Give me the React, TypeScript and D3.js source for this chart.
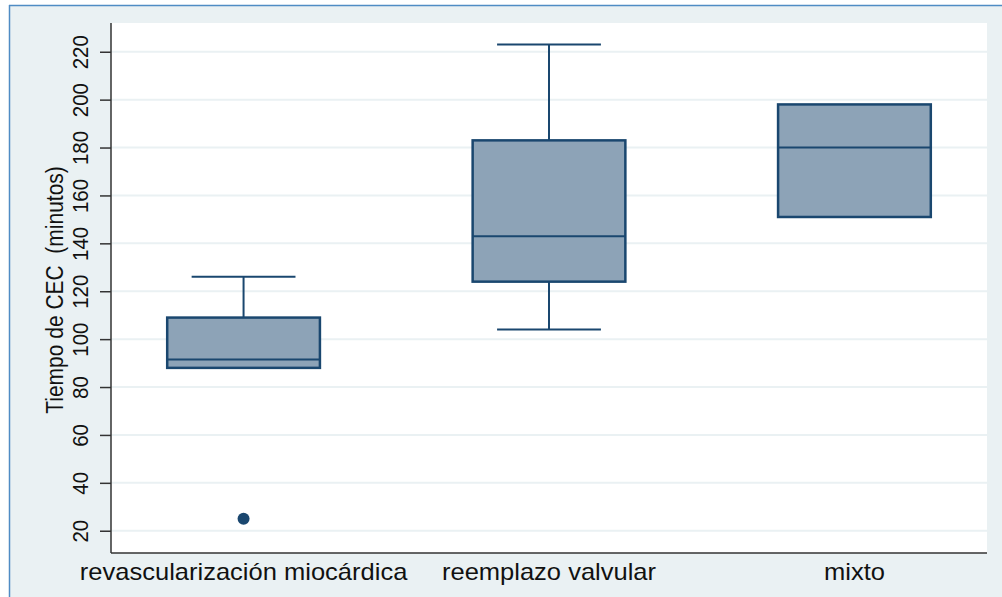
import React, { useEffect, useRef } from 'react'
import * as d3 from 'd3'

// Box plot summary
const categories = ['revascularización miocárdica', 'reemplazo valvular', 'mixto']
const lowerWhisker = [88, 104, 151]
const q1 = [88, 124, 151]
const median = [91.5, 143, 180]
const q3 = [109, 183, 198]
const upperWhisker = [126, 223, 198]
const outliers: { cat: string; value: number }[] = [{ cat: 'revascularización miocárdica', value: 25 }]
const yTicks = [20, 40, 60, 80, 100, 120, 140, 160, 180, 200, 220]

const W = 1002
const H = 597

const App: React.FC = () => {
  const svgRef = useRef<SVGSVGElement>(null)

  useEffect(() => {
    if (!svgRef.current) return
    const svg = d3.select(svgRef.current)
    svg.selectAll('*').remove()

    const left = 111
    const right = 987
    const top = 23
    const bottom = 553
    const navy = '#1a476f'
    const font = '"Liberation Sans", Arial, sans-serif'
    const stretch = 1.11 // the source image is a bit wider than tall

    // background + frame
    svg.append('rect').attr('width', W).attr('height', H).attr('fill', '#fff')
    svg.append('rect')
      .attr('x', 9).attr('y', 5).attr('width', W - 9).attr('height', H - 5)
      .attr('fill', '#eaf1f3')
    svg.append('line').attr('x1', 9).attr('x2', W).attr('y1', 5.5).attr('y2', 5.5)
      .attr('stroke', '#4f8cc4').attr('stroke-width', 1.5)
    svg.append('line').attr('x1', 9.5).attr('x2', 9.5).attr('y1', 5).attr('y2', H)
      .attr('stroke', '#4f8cc4').attr('stroke-width', 1.5)

    svg.append('rect')
      .attr('x', left).attr('y', top).attr('width', right - left).attr('height', bottom - top)
      .attr('fill', '#fff')

    const x = d3.scalePoint<string>().domain(categories).range([left, right]).padding(0.434)
    const y = d3.scaleLinear().domain([10.7, 232]).range([bottom, top])
    const boxW = x.step() * 0.5
    const capW = boxW * 0.68

    // gridlines
    svg.append('g').selectAll('line').data(yTicks).enter().append('line')
      .attr('x1', left).attr('x2', right)
      .attr('y1', d => y(d)).attr('y2', d => y(d))
      .attr('stroke', '#eaf1f3').attr('stroke-width', 2)

    const g = svg.append('g')
    categories.forEach((c, i) => {
      const cx = x(c) ?? 0
      // whiskers
      if (upperWhisker[i] > q3[i]) {
        g.append('line').attr('x1', cx).attr('x2', cx).attr('y1', y(upperWhisker[i])).attr('y2', y(q3[i]))
          .attr('stroke', navy).attr('stroke-width', 2)
        g.append('line').attr('x1', cx - capW / 2).attr('x2', cx + capW / 2)
          .attr('y1', y(upperWhisker[i])).attr('y2', y(upperWhisker[i]))
          .attr('stroke', navy).attr('stroke-width', 2)
      }
      if (lowerWhisker[i] < q1[i]) {
        g.append('line').attr('x1', cx).attr('x2', cx).attr('y1', y(lowerWhisker[i])).attr('y2', y(q1[i]))
          .attr('stroke', navy).attr('stroke-width', 2)
        g.append('line').attr('x1', cx - capW / 2).attr('x2', cx + capW / 2)
          .attr('y1', y(lowerWhisker[i])).attr('y2', y(lowerWhisker[i]))
          .attr('stroke', navy).attr('stroke-width', 2)
      }
      // box
      g.append('rect')
        .attr('x', cx - boxW / 2).attr('width', boxW)
        .attr('y', y(q3[i])).attr('height', y(q1[i]) - y(q3[i]))
        .attr('fill', '#8da3b7').attr('stroke', navy).attr('stroke-width', 2.5)
      g.append('line').attr('x1', cx - boxW / 2).attr('x2', cx + boxW / 2)
        .attr('y1', y(median[i])).attr('y2', y(median[i]))
        .attr('stroke', navy).attr('stroke-width', 2)
    })

    g.selectAll('circle.out').data(outliers).enter().append('circle')
      .attr('class', 'out')
      .attr('cx', d => x(d.cat) ?? 0).attr('cy', d => y(d.value)).attr('r', 6)
      .attr('fill', navy)

    // y axis
    const yAxis = svg.append('g').attr('transform', `translate(${left},0)`)
      .call(d3.axisLeft(y).tickValues(yTicks).tickSize(11).tickFormat(d => `${d}`))
    yAxis.select('.domain').attr('d', `M0,${top}V${bottom}`).attr('stroke', '#333').attr('stroke-width', 1.5)
    yAxis.selectAll('.tick line').attr('stroke', '#333').attr('stroke-width', 1.5)
    yAxis.selectAll('.tick text')
      .attr('x', null).attr('dy', null)
      .attr('transform', `translate(-31,0) scale(${stretch},1) rotate(-90)`)
      .attr('text-anchor', 'middle')
      .attr('dominant-baseline', 'central')
      .style('font-family', font).style('font-size', '20.5px').style('fill', '#111')

    // x axis line + category labels
    svg.append('line').attr('x1', left).attr('x2', right).attr('y1', bottom).attr('y2', bottom)
      .attr('stroke', '#333').attr('stroke-width', 1.5)
    svg.append('g').selectAll('text').data(categories).enter().append('text')
      .attr('transform', d => `translate(${x(d) ?? 0},580) scale(${stretch},1)`)
      .attr('text-anchor', 'middle')
      .style('font-family', font).style('font-size', '23px').style('fill', '#111')
      .text(d => d)

    // y title
    svg.append('text')
      .attr('transform', `translate(55,290) scale(${stretch},1) rotate(-90)`)
      .attr('text-anchor', 'middle')
      .attr('dominant-baseline', 'central')
      .style('font-family', font).style('font-size', '21px').style('fill', '#111')
      .style('white-space', 'pre')
      .text('Tiempo de CEC  (minutos)')
  }, [])

  return (
    <svg ref={svgRef} width={W} height={H} style={{ display: 'block', position: 'absolute', left: 0, top: 0 }} />
  )
}

export default App
